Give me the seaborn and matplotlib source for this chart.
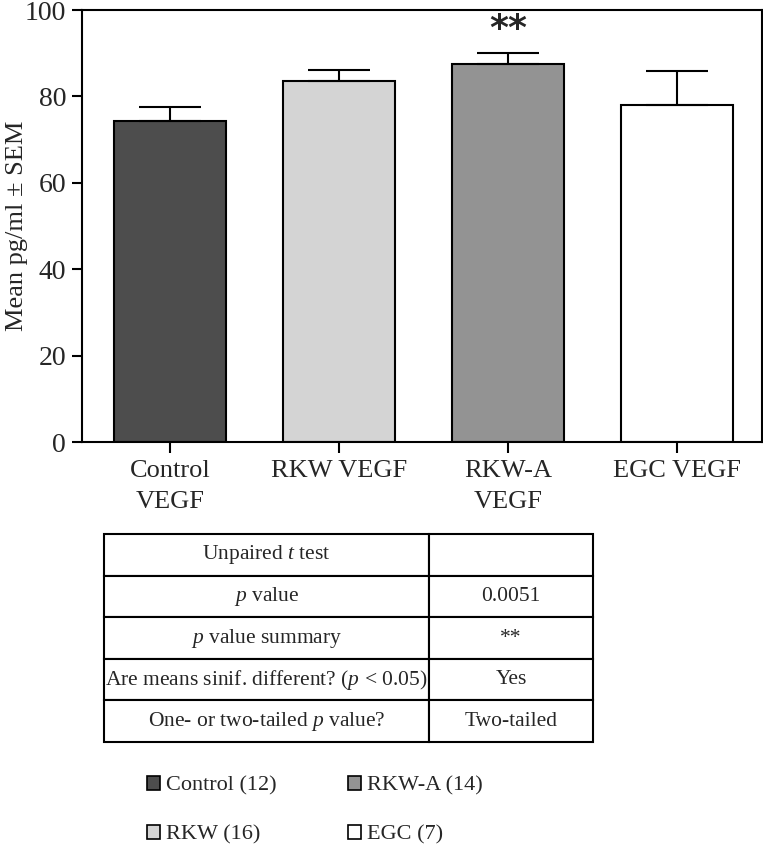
import matplotlib
matplotlib.use("Agg")
import matplotlib.pyplot as plt
import seaborn as sns
import numpy as np
import pandas as pd
from matplotlib.patches import Patch

# values
groups = ["Control\nVEGF", "RKW VEGF", "RKW-A\nVEGF", "EGC VEGF"]
means = [74.3, 83.6, 87.5, 78.1]
sems = [3.3, 2.5, 2.5, 7.9]
bar_colors = ["#4d4d4d", "#d4d4d4", "#939393", "#ffffff"]

legend_labels = ["Control (12)", "RKW (16)", "RKW-A (14)", "EGC (7)"]

table_rows = [
    ["Unpaired $t$ test", ""],
    ["$p$ value", "0.0051"],
    ["$p$ value summary", "**"],
    ["Are means sinif. different? ($p$ < 0.05)", "Yes"],
    ["One- or two-tailed $p$ value?", "Two-tailed"],
]

sns.set_style("ticks")
plt.rcParams["font.family"] = ["Liberation Serif", "DejaVu Serif"]
plt.rcParams["mathtext.fontset"] = "custom"
plt.rcParams["mathtext.rm"] = "Liberation Serif"
plt.rcParams["mathtext.it"] = "Liberation Serif:italic"

df = pd.DataFrame({"group": groups, "mean": means})

fig = plt.figure(figsize=(7.63, 8.46), dpi=100)
ax = fig.add_axes([0.1075, 0.4775, 0.891, 0.5106])

sns.barplot(data=df, x="group", y="mean", hue="group", palette=bar_colors,
            edgecolor="black", linewidth=1.5, width=0.66, legend=False, ax=ax)

# upward-only SEM bars
ax.errorbar(np.arange(len(groups)), means, yerr=[np.zeros(len(sems)), sems],
            fmt="none", ecolor="black", elinewidth=1.5, capsize=22, capthick=1.5)

ax.text(2, 95.6, "**", ha="center", va="center", fontsize=26, fontweight="bold",
        family="DejaVu Sans")

ax.set_ylim(0, 100)
ax.set_xlim(-0.52, 3.5)
ax.set_yticks(range(0, 101, 20))
ax.set_xlabel("")
ax.set_ylabel("Mean pg/ml ± SEM", fontsize=19)
ax.yaxis.set_label_coords(-0.08, 0.5)
ax.tick_params(axis="both", width=1.5, color="black")
ax.tick_params(axis="y", labelsize=20, length=7.5, pad=4)
ax.tick_params(axis="x", labelsize=19, length=8, pad=5)
for lbl in ax.get_xticklabels():
    lbl.set_linespacing(1.55)
for sp in ax.spines.values():
    sp.set_visible(True)
    sp.set_linewidth(1.5)
    sp.set_color("black")

# statistics table
tax = fig.add_axes([0.1363, 0.1229, 0.641, 0.2459])
tax.axis("off")
tbl = tax.table(cellText=table_rows, colWidths=[0.665, 0.335], cellLoc="center",
                bbox=[0, 0, 1, 1])
tbl.auto_set_font_size(False)
tbl.set_fontsize(15.5)
for cell in tbl.get_celld().values():
    cell.set_linewidth(1.5)
    cell.set_edgecolor("black")
    cell.PAD = 0.01

# group legend
handles = [Patch(facecolor=c, edgecolor="black", linewidth=1.2) for c in bar_colors]
fig.legend(handles, legend_labels, ncol=2, loc="upper left",
           bbox_to_anchor=(147 / 763, 1 - 776 / 846), frameon=False,
           fontsize=16, borderpad=0, borderaxespad=0, handlelength=0.6,
           handleheight=0.6, handletextpad=0.25, labelspacing=1.3,
           columnspacing=3.2)

fig.savefig("out.png", dpi=100)
